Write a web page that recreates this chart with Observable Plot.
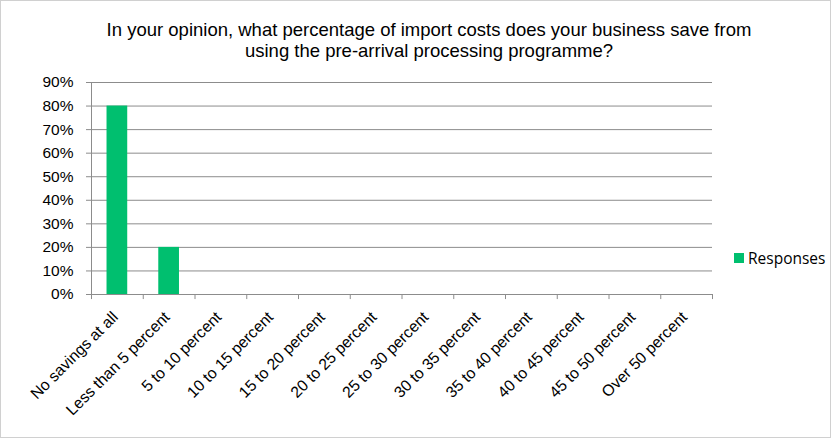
<!DOCTYPE html>
<html>
<head>
<meta charset="utf-8">
<script src="https://cdn.jsdelivr.net/npm/d3@7"></script>
<script src="https://cdn.jsdelivr.net/npm/@observablehq/plot@0.6"></script>
<style>
  html, body { margin: 0; padding: 0; background: #fff; }
  #wrap { position: relative; width: 835px; height: 441px; overflow: hidden; }
  #border { position: absolute; left: 0; top: 0; width: 829px; height: 436px; border: 1px solid #d0d0d0; box-sizing: content-box; }
  #title { position: absolute; left: 0; width: 858px; top: 19px; text-align: center; font-family: "Liberation Sans", Arial, sans-serif; font-size: 18.5px; line-height: 21px; color: #000; }
  #legend { position: absolute; left: 734px; top: 247px; font-family: "Open Sans", "Lato", sans-serif; font-size: 15.5px; color: #000; display: flex; align-items: center; }
  #legend .sw { width: 10px; height: 10px; margin-right: 4px; }
  #chart { position: absolute; left: 0; top: 0; }
</style>
</head>
<body>
<div id="wrap">
  <div id="chart"></div>
  <div id="border"></div>
  <div id="title">In your opinion, what percentage of import costs does your business save from<br>using the pre-arrival processing programme?</div>
  <div id="legend"></div>
</div>
<script>
const categories = ["No savings at all", "Less than 5 percent", "5 to 10 percent", "10 to 15 percent", "15 to 20 percent", "20 to 25 percent", "25 to 30 percent", "30 to 35 percent", "35 to 40 percent", "40 to 45 percent", "45 to 50 percent", "Over 50 percent"];
const responses = [0.8, 0.2, 0, 0, 0, 0, 0, 0, 0, 0, 0, 0];
const yTicks = [0, 0.1, 0.2, 0.3, 0.4, 0.5, 0.6, 0.7, 0.8, 0.9];
const seriesName = "Responses";
const barColor = "#00bf6f";

const data = categories.map((c, i) => ({category: c, value: responses[i]}));

const W = 835, H = 441;
const mL = 91, mR = 123, mT = 82, mB = 147;
const step = (W - mL - mR) / categories.length;

const chart = Plot.plot({
  width: W,
  height: H,
  marginLeft: mL,
  marginRight: mR,
  marginTop: mT,
  marginBottom: mB,
  style: {fontFamily: "'Liberation Sans', Arial, sans-serif", fontSize: "15px", color: "#000", background: "transparent"},
  x: {domain: categories, paddingInner: 0.6, paddingOuter: 0.3, round: false, label: null},
  y: {domain: [0, 0.9], label: null},
  marks: [
    Plot.gridY(yTicks, {stroke: "#8c8c8c", strokeOpacity: 1}),
    Plot.barY(data, {x: "category", y: "value", fill: barColor}),
    Plot.ruleX(categories, {x: d => d, y1: 0, y2: -0.0215, dx: -step / 2, stroke: "#8c8c8c"}),
    Plot.ruleX([categories[categories.length - 1]], {x: d => d, y1: 0, y2: -0.0215, dx: step / 2, stroke: "#8c8c8c"}),
    Plot.ruleX([categories[0]], {x: d => d, y1: 0, y2: 0.9, dx: -step / 2, stroke: "#8c8c8c"}),
    Plot.ruleY([0], {stroke: "#8c8c8c"}),
    Plot.axisY(yTicks, {tickFormat: d3.format(".0%"), tickSize: 5, tickPadding: 13, stroke: "#8c8c8c", fill: "#000", label: null, fontSize: 15.5}),
    Plot.axisX({tickSize: 0, tickRotate: -45, tickPadding: 4, label: null, fontSize: 15.8, fill: "#000", dx: -2, dy: 16})
  ]
});
document.getElementById("chart").appendChild(chart);

const lg = document.getElementById("legend");
lg.innerHTML = `<div class="sw" style="background:${barColor}"></div><span>${seriesName}</span>`;
</script>
</body>
</html>
